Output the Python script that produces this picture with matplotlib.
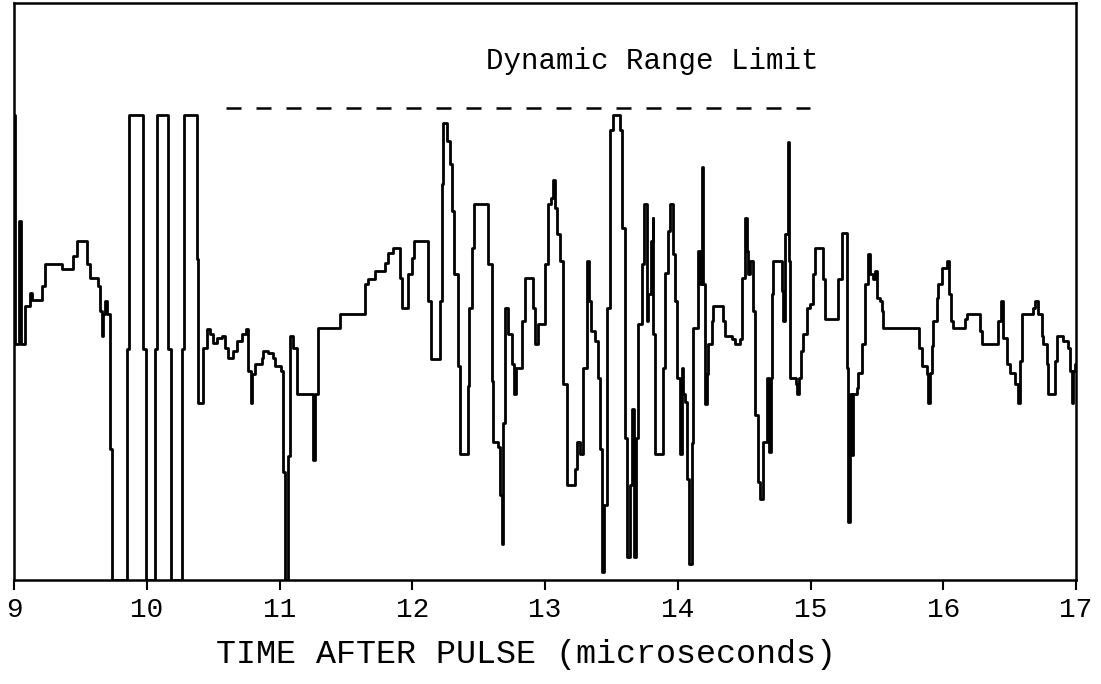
import matplotlib.pyplot as plt

# time after pulse (microseconds) where the level changes, and the level (% of range)
t = [9.000, 9.011, 9.038, 9.053, 9.083, 9.121, 9.136, 9.209, 9.234, 9.359,
     9.447, 9.472, 9.548, 9.573, 9.635, 9.648, 9.661, 9.673, 9.686, 9.701,
     9.723, 9.736, 9.849, 9.866, 9.974, 9.994, 10.062, 10.077, 10.162, 10.183,
     10.263, 10.283, 10.376, 10.388, 10.426, 10.452, 10.476, 10.501, 10.527, 10.565,
     10.589, 10.614, 10.652, 10.678, 10.715, 10.745, 10.765, 10.785, 10.795, 10.815,
     10.866, 10.878, 10.916, 10.953, 10.966, 11.011, 11.029, 11.041, 11.062, 11.079,
     11.104, 11.130, 11.255, 11.271, 11.288, 11.456, 11.644, 11.669, 11.719, 11.795,
     11.820, 11.857, 11.908, 11.925, 11.970, 11.996, 12.016, 12.121, 12.141, 12.209,
     12.222, 12.234, 12.260, 12.284, 12.297, 12.317, 12.347, 12.360, 12.418, 12.428,
     12.448, 12.467, 12.573, 12.599, 12.611, 12.648, 12.661, 12.674, 12.686, 12.699,
     12.724, 12.749, 12.769, 12.779, 12.824, 12.849, 12.912, 12.925, 12.950, 13.000,
     13.020, 13.045, 13.063, 13.075, 13.088, 13.113, 13.138, 13.163, 13.226, 13.239,
     13.264, 13.289, 13.314, 13.332, 13.347, 13.377, 13.397, 13.414, 13.427, 13.444,
     13.465, 13.490, 13.515, 13.565, 13.578, 13.603, 13.615, 13.640, 13.655, 13.670,
     13.686, 13.701, 13.728, 13.748, 13.766, 13.778, 13.799, 13.810, 13.816, 13.829,
     13.891, 13.904, 13.929, 13.942, 13.967, 13.979, 13.992, 14.017, 14.030, 14.042,
     14.055, 14.067, 14.085, 14.105, 14.117, 14.155, 14.168, 14.180, 14.193, 14.205,
     14.218, 14.230, 14.256, 14.268, 14.343, 14.356, 14.406, 14.431, 14.469, 14.486,
     14.507, 14.519, 14.531, 14.544, 14.569, 14.582, 14.607, 14.620, 14.644, 14.670,
     14.687, 14.699, 14.708, 14.720, 14.783, 14.795, 14.808, 14.828, 14.838, 14.846,
     14.888, 14.896, 14.913, 14.928, 14.946, 14.971, 14.996, 15.021, 15.034, 15.096,
     15.109, 15.209, 15.235, 15.273, 15.285, 15.298, 15.310, 15.322, 15.348, 15.360,
     15.386, 15.411, 15.436, 15.448, 15.473, 15.486, 15.499, 15.524, 15.536, 15.548,
     15.817, 15.838, 15.875, 15.888, 15.900, 15.913, 15.925, 15.951, 15.963, 15.988,
     16.026, 16.043, 16.059, 16.076, 16.164, 16.177, 16.277, 16.290, 16.415, 16.435,
     16.452, 16.478, 16.503, 16.541, 16.561, 16.578, 16.591, 16.678, 16.691, 16.716,
     16.742, 16.754, 16.779, 16.791, 16.842, 16.854, 16.904, 16.942, 16.955, 16.968,
     16.980, 16.992, 17.000]

level = [100.0, 50.8, 77.3, 50.8, 59.0, 61.8, 60.3, 63.3, 68.0, 67.0,
         69.8, 73.0, 68.0, 65.0, 63.3, 57.9, 52.5, 57.2, 60.0, 57.2,
         28.3, 0.0, 49.7, 100.0, 49.7, 0.0, 49.7, 100.0, 49.7, 0.0,
         49.7, 100.0, 69.1, 38.0, 49.9, 54.0, 52.9, 51.0, 52.1, 52.5,
         49.9, 47.7, 49.2, 51.4, 52.9, 54.0, 44.9, 38.0, 44.3, 46.4,
         47.7, 49.2, 48.8, 47.7, 46.0, 44.9, 23.3, 0.0, 26.6, 52.5,
         49.9, 40.0, 25.9, 40.0, 54.2, 57.2, 63.7, 64.8, 66.5, 68.2,
         70.4, 71.5, 65.0, 58.5, 65.9, 69.3, 73.0, 60.0, 47.5, 60.0,
         85.3, 98.3, 94.6, 89.6, 79.5, 65.9, 46.0, 27.2, 41.7, 58.5,
         71.5, 81.0, 68.0, 42.8, 29.8, 28.7, 18.4, 7.8, 33.7, 58.5,
         52.9, 46.4, 40.0, 45.6, 55.7, 65.0, 58.5, 50.8, 55.1, 68.0,
         81.0, 82.3, 86.0, 80.1, 74.5, 68.7, 42.1, 20.5, 24.0, 29.8,
         27.2, 45.6, 68.7, 60.0, 53.6, 51.4, 43.4, 28.3, 1.7, 16.2,
         58.5, 96.8, 100.0, 96.8, 75.8, 30.5, 5.0, 20.5, 36.9, 5.0,
         30.5, 55.1, 68.0, 81.0, 55.7, 61.6, 73.0, 78.0, 52.9, 27.2,
         45.6, 66.1, 75.2, 81.0, 70.2, 60.0, 43.4, 27.2, 45.6, 40.0,
         38.4, 21.8, 3.5, 29.4, 54.2, 70.8, 63.7, 88.8, 63.7, 37.8,
         44.3, 50.8, 55.7, 59.0, 55.7, 52.5, 51.8, 50.8, 51.8, 65.0,
         78.0, 70.8, 65.9, 68.7, 57.9, 35.6, 21.2, 17.5, 29.8, 43.4,
         27.6, 43.4, 61.6, 68.7, 62.2, 55.7, 74.5, 94.2, 68.7, 43.4,
         42.1, 40.0, 43.4, 49.2, 52.9, 58.5, 59.4, 65.9, 71.5, 64.8,
         56.2, 64.8, 74.7, 45.6, 12.5, 40.0, 27.0, 40.0, 41.3, 44.5,
         50.8, 63.7, 70.2, 65.9, 64.8, 66.5, 60.7, 60.0, 57.9, 54.2,
         49.9, 46.0, 44.3, 38.0, 44.5, 50.3, 55.7, 60.7, 63.7, 67.2,
         68.7, 61.6, 55.7, 54.2, 56.2, 57.2, 53.6, 50.8, 55.7, 60.0,
         52.1, 46.4, 44.5, 42.1, 38.0, 47.1, 57.2, 58.5, 60.0, 57.2,
         52.5, 50.8, 46.4, 40.0, 47.1, 52.5, 51.4, 49.9, 44.9, 38.0,
         44.9, 46.4, 46.4]

limit_level = 101.7
limit_span = [10.597, 14.996]
xticks = [9, 10, 11, 12, 13, 14, 15, 16, 17]

mono = 'Liberation Mono'

fig = plt.figure(figsize=(11.01, 6.84), dpi=100)
ax = fig.add_axes([14 / 1101, 104 / 684, 1062 / 1101, 577 / 684])

ax.step(t, level, where='post', color='black', lw=2.0)
ax.plot(limit_span, [limit_level, limit_level], color='black', lw=1.8,
        dashes=(6, 6))
ax.text(13.81, 111.7, 'Dynamic Range Limit', family=mono, fontsize=21,
        ha='center', va='center')

ax.set_xlim(9, 17)
ax.set_ylim(0, 124.2)
ax.set_xticks(xticks)
ax.set_xticklabels([str(v) for v in xticks], family=mono, fontsize=20)
ax.set_yticks([])
ax.tick_params(axis='x', direction='out', length=7, width=1.5, pad=5)
for s in ax.spines.values():
    s.set_linewidth(1.8)
ax.set_xlabel('TIME AFTER PULSE (microseconds)', family=mono, fontsize=24,
              labelpad=12)
ax.xaxis.label.set_x(0.482)

fig.savefig('out.png', dpi=100)
